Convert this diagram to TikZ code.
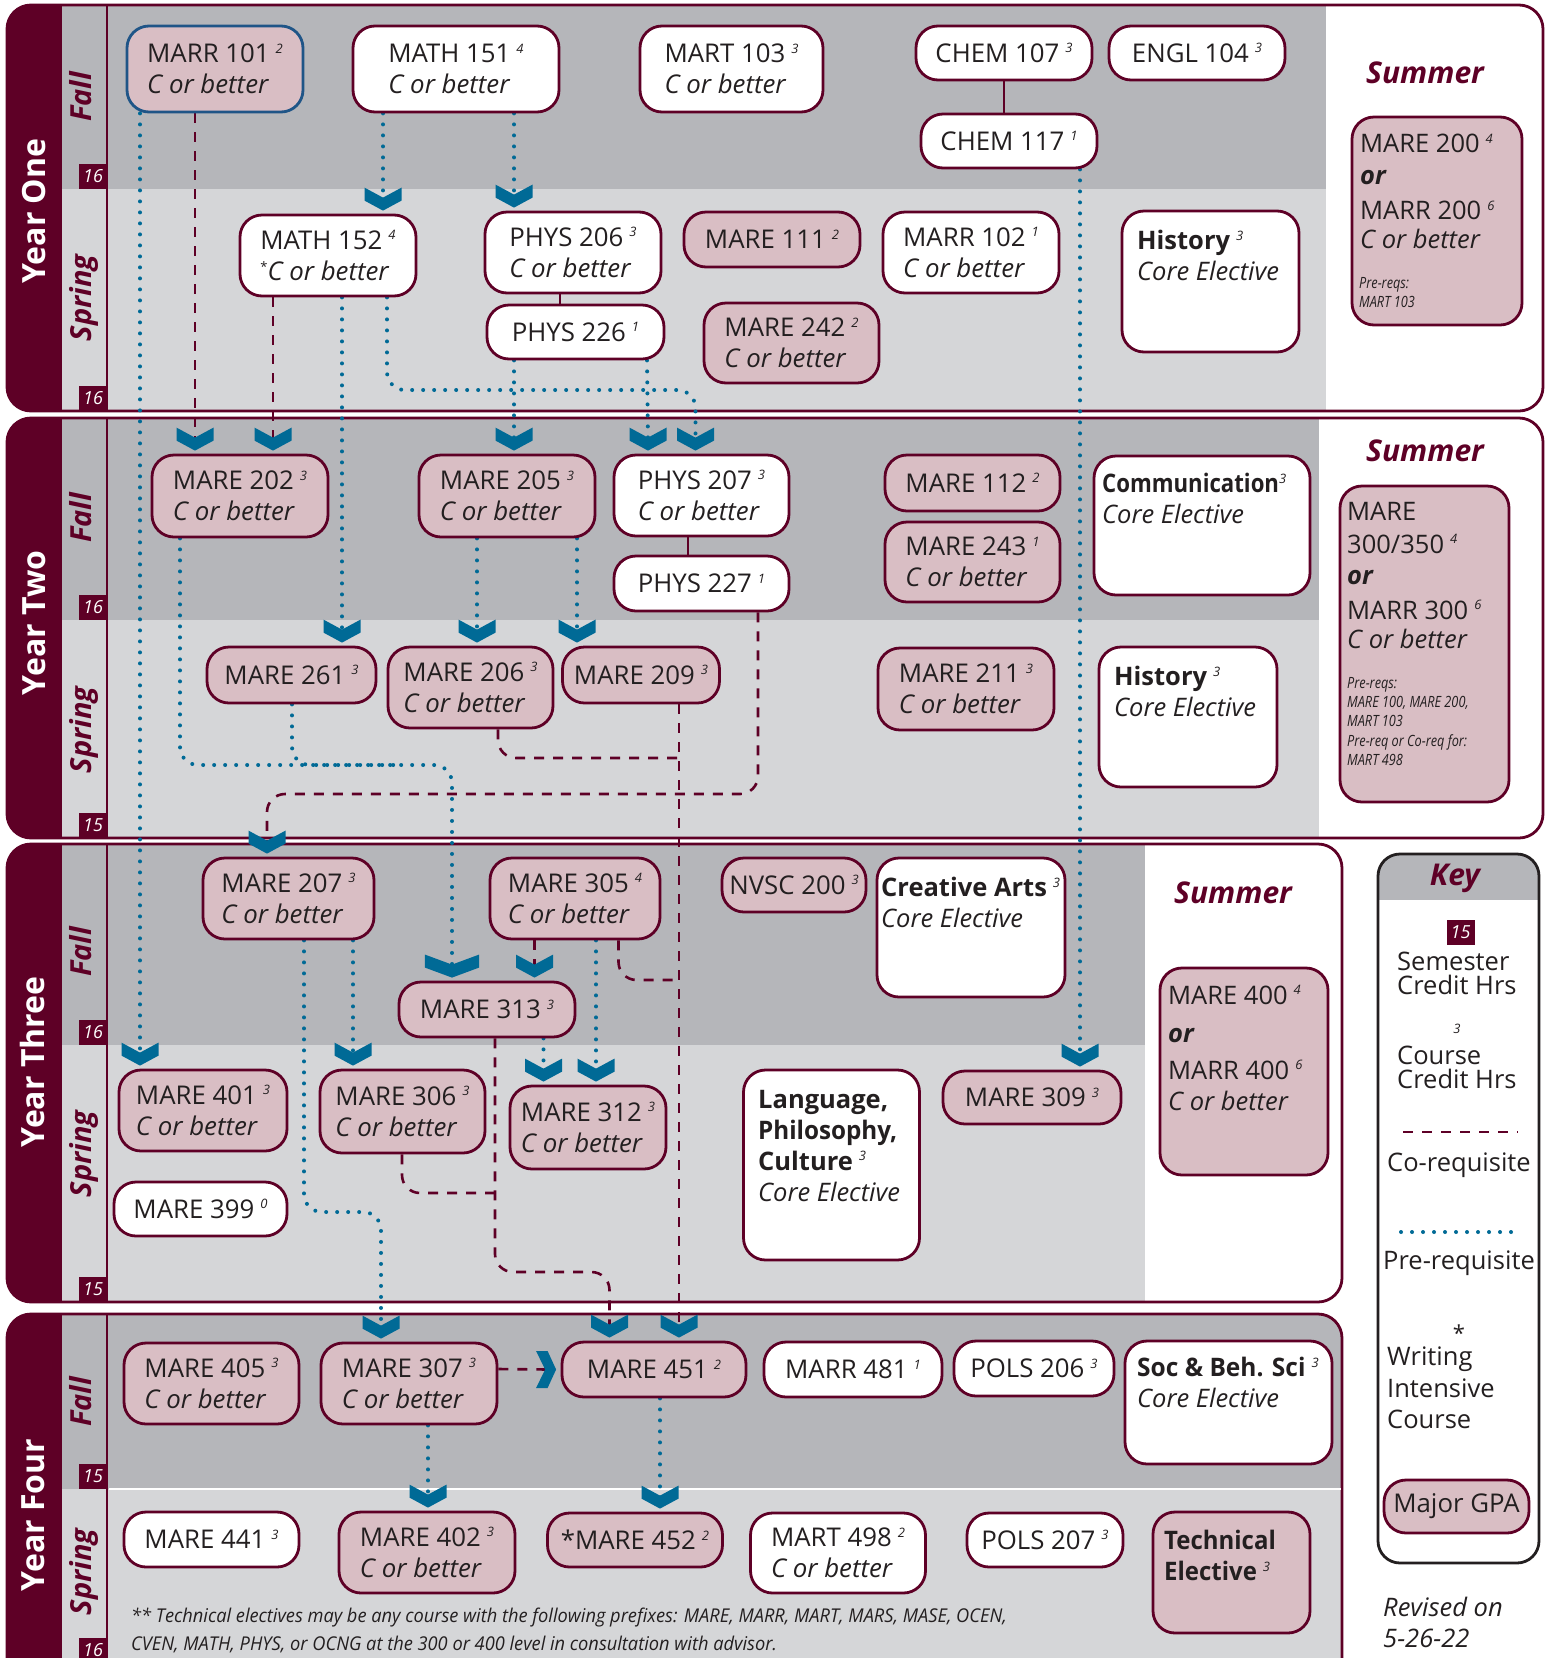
\documentclass[tikz,border=0pt]{standalone}
\usepackage{fontspec}
\usepackage{graphicx}
\setmainfont{Open Sans}
\usetikzlibrary{calc}
\pgfdeclarelayer{back}
\pgfdeclarelayer{lines}
\pgfsetlayers{back,lines,main}
\definecolor{maroon}{RGB}{94,0,38}
\definecolor{pinkf}{RGB}{217,190,196}
\definecolor{gfall}{RGB}{181,182,186}
\definecolor{gspr}{RGB}{213,214,216}
\definecolor{prblue}{RGB}{0,106,150}
\definecolor{txt}{RGB}{35,31,32}
\definecolor{bord}{RGB}{31,85,135}
\definecolor{keyline}{RGB}{35,31,32}
\newcommand{\sups}[1]{\hspace{6pt}\raisebox{9.5pt}{\fontsize{13}{13}\selectfont\itshape #1}}
\newcommand{\supn}[1]{\raisebox{9.5pt}{\fontsize{13}{13}\selectfont\itshape #1}}
\newcommand{\cnd}[2][0.82]{\scalebox{#1}[1]{#2}}
\newcommand{\bsc}[2][0.92]{\scalebox{#1}[1]{\bfseries #2}}
\newcommand{\crs}[6]{\node[#1, minimum width=#4pt, minimum height=#5pt] (#2) at (#3) {#6};}
\newcommand{\chev}[2][1]{\fill[prblue, shift={#2}, xscale=#1] (-18.5,-23) -- (0,-13) -- (18.5,-23) -- (18.5,-10) -- (0,0) -- (-18.5,-10) -- cycle;}
\newcommand{\yearframe}[5]{%
 \begin{scope}
  \clip[rounded corners=24pt] (7,#1) rectangle (#5,#3);
  \fill[white] (7,#1) rectangle (#5,#3);
  \fill[gfall] (7,#1) rectangle (#4,#2);
  \fill[gspr] (7,#2) rectangle (#4,#3);
  \fill[maroon] (7,#1) rectangle (62,#3);
 \end{scope}
 \draw[maroon, line width=2.5pt] (107,#1) -- (107,#3);
 \draw[maroon, line width=2.8pt, rounded corners=24pt] (7,#1) rectangle (#5,#3);
}
\begin{document}
\begin{tikzpicture}[x=1pt,y=-1pt,
 box/.style={draw=maroon, line width=2.8pt, rounded corners=22pt, text=txt, align=left, inner sep=0pt, font=\fontsize{25.8}{31}\selectfont},
 wbox/.style={box, fill=white},
 pbox/.style={box, fill=pinkf},
 txtn/.style={text=txt, align=left, inner sep=0pt, font=\fontsize{25.5}{31}\selectfont},
 smalln/.style={text=txt, align=left, inner sep=0pt, font=\fontsize{15.5}{19.3}\selectfont\itshape},
 fnt/.style={text=txt, inner sep=0pt, font=\fontsize{19}{19}\selectfont\itshape},
 summer/.style={text=maroon, inner sep=0pt, font=\fontsize{30}{30}\selectfont\bfseries\itshape},
 yrlab/.style={text=white, inner sep=0pt, font=\fontsize{32}{32}\selectfont\bfseries},
 semlab/.style={text=maroon, inner sep=0pt, font=\fontsize{29}{29}\selectfont\bfseries\itshape},
 credit/.style={fill=maroon, text=white, minimum width=28pt, minimum height=25pt, inner sep=0pt, font=\fontsize{18}{18}\selectfont\itshape},
 prereq/.style={prblue, line width=4pt, dash pattern=on 0pt off 11pt, line cap=round, rounded corners=18pt},
 coreq/.style={maroon, line width=2.6pt, dash pattern=on 10pt off 9pt, rounded corners=18pt},
 solidc/.style={maroon, line width=2.8pt}]
\useasboundingbox (0,0) rectangle (1551,1658);
\begin{pgfonlayer}{back}
\fill[white] (0,0) rectangle (1551,1658);
\yearframe{5}{189}{411}{1326}{1543}
\yearframe{418}{620}{838}{1319}{1543}
\yearframe{844}{1045}{1302}{1145}{1342}
\yearframe{1314}{1489}{1700}{1342}{1342}
\draw[white, line width=1.2pt] (108.5,1489) -- (1341,1489);
\node[yrlab, rotate=90, anchor=base] (y1) at (45,211) {Year One};
\node[yrlab, rotate=90, anchor=base] (y2) at (45,623) {Year Two};
\node[yrlab, rotate=90, anchor=base] (y3) at (44,1062) {Year Three};
\node[yrlab, rotate=90, anchor=base] (y4) at (44,1515) {Year Four};
\node[semlab, rotate=90, anchor=base] (y1f) at (91,97) {Fall};
\node[semlab, rotate=90, anchor=base] (y1s) at (91,298) {Spring};
\node[semlab, rotate=90, anchor=base] (y2f) at (91,518) {Fall};
\node[semlab, rotate=90, anchor=base] (y2s) at (91,730) {Spring};
\node[semlab, rotate=90, anchor=base] (y3f) at (91,952) {Fall};
\node[semlab, rotate=90, anchor=base] (y3s) at (91,1154) {Spring};
\node[semlab, rotate=90, anchor=base] (y4f) at (91,1402) {Fall};
\node[semlab, rotate=90, anchor=base] (y4s) at (91,1572) {Spring};
\node[credit] (c1f) at (93,176.5) {16};
\node[credit] (c1s) at (93,398) {16};
\node[credit] (c2f) at (93,607.5) {16};
\node[credit] (c2s) at (93,825) {15};
\node[credit] (c3f) at (93,1032) {16};
\node[credit] (c3s) at (93,1289) {15};
\node[credit] (c4f) at (93,1476) {15};
\node[credit] (c4s) at (93,1650) {16};
\end{pgfonlayer}

% ---------- Year One
\crs{pbox,draw=bord}{marr101}{215,69}{176}{86}{MARR 101\sups{2}\\\textit{C or better}}
\crs{wbox}{math151}{456,69}{206}{86}{MATH 151\sups{4}\\\textit{C or better}}
\crs{wbox}{mart103}{731.5,69}{183}{86}{MART 103\sups{3}\\\textit{C or better}}
\crs{wbox}{chem107}{1004,53}{176}{54}{CHEM 107\sups{3}}
\crs{wbox}{engl104}{1197,53}{176}{54}{ENGL 104\sups{3}}
\crs{wbox}{chem117}{1009,141}{176}{54}{CHEM 117\sups{1}}
\crs{wbox}{math152}{328,255.5}{176}{81}{MATH 152\sups{4}\\{\fontsize{13}{13}\selectfont\raisebox{9pt}{*}}\textit{C or better}}
\crs{wbox}{phys206}{573,252.5}{176}{81}{PHYS 206\sups{3}\\\textit{C or better}}
\crs{wbox}{phys226}{575.5,332}{177}{54}{PHYS 226\sups{1}}
\crs{pbox}{mare111}{772,239.5}{176}{55}{MARE 111\sups{2}}
\crs{pbox}{mare242}{791.5,343}{175}{80}{MARE 242\sups{2}\\\textit{C or better}}
\crs{wbox}{marr102}{971,252.5}{176}{81}{MARR 102\sups{1}\\\textit{C or better}}
\crs{wbox}{hist1}{1210.5,281.5}{177}{141}{}
\node[txtn, anchor=north west] (hist1t) at (1137,230) {\textbf{History}\sups{3}\\\textit{Core Elective}};
\node[summer, anchor=base] (sum1) at (1425,83) {Summer};
\crs{pbox}{mare200}{1437,221}{170}{208}{}
\node[txtn, anchor=north west] (mare200t) at (1360,134) {MARE 200\sups{4}\\[1pt]\textbf{\textit{or}}\\[4pt]MARR 200\sups{6}\\[-2pt]\textit{C or better}};
\node[smalln, anchor=north west] (mare200s) at (1359,277) {\cnd{Pre-reqs:}\\\cnd{MART 103}};

% ---------- Year Two
\crs{pbox}{mare202}{240,496}{176}{82}{MARE 202\sups{3}\\\textit{C or better}}
\crs{pbox}{mare205}{507,496}{176}{82}{MARE 205\sups{3}\\\textit{C or better}}
\crs{wbox}{phys207}{701.5,495.5}{175}{81}{PHYS 207\sups{3}\\\textit{C or better}}
\crs{wbox}{phys227}{701.5,583.5}{175}{55}{PHYS 227\sups{1}}
\crs{pbox}{mare112}{972.5,483}{175}{56}{MARE 112\sups{2}}
\crs{pbox}{mare243}{972.5,562}{175}{80}{MARE 243\sups{1}\\\textit{C or better}}
\crs{wbox}{comm}{1202,525.5}{216}{139}{}
\node[txtn, anchor=north west] (commt) at (1102,473) {\bsc[0.87]{Communication}\supn{3}\\\textit{Core Elective}};
\crs{pbox}{mare261}{291.5,675}{169}{56}{MARE 261\sups{3}}
\crs{pbox}{mare206}{470.5,687.5}{165}{81}{MARE 206\sups{3}\\\textit{C or better}}
\crs{pbox}{mare209}{641,675}{157}{56}{MARE 209\sups{3}}
\crs{pbox}{mare211}{966,689}{176}{82}{MARE 211\sups{3}\\\textit{C or better}}
\crs{wbox}{hist2}{1188,717}{178}{140}{}
\node[txtn, anchor=north west] (hist2t) at (1114,666) {\textbf{History}\sups{3}\\\textit{Core Elective}};
\node[summer, anchor=base] (sum2) at (1425,461) {Summer};
\crs{pbox}{mare300}{1424.5,644}{169}{316}{}
\node[txtn, anchor=north west] (mare300t) at (1347,502) {MARE\\[2pt]300/350\sups{4}\\\textbf{\textit{or}}\\[4pt]MARR 300\sups{6}\\[-2pt]\textit{C or better}};
\node[smalln, anchor=north west] (mare300s) at (1347,677) {\cnd{Pre-reqs:}\\\cnd{MARE 100, MARE 200,}\\\cnd{MART 103}\\\cnd{Pre-req or Co-req for:}\\\cnd{MART 498}};

% ---------- Year Three
\crs{pbox}{mare207}{288.5,898.5}{171}{81}{MARE 207\sups{3}\\\textit{C or better}}
\crs{pbox}{mare305}{575,898.5}{170}{81}{MARE 305\sups{4}\\\textit{C or better}}
\crs{pbox}{mare313}{487,1009.5}{176}{55}{MARE 313\sups{3}}
\crs{pbox}{nvsc200}{794,885}{144}{54}{NVSC 200\sups{3}}
\crs{wbox}{creat}{971,927.5}{188}{139}{}
\node[txtn, anchor=north west] (creatt) at (881,877) {\textbf{Creative Arts}\sups{3}\\\textit{Core Elective}};
\node[summer, anchor=base] (sum3) at (1233,903) {Summer};
\crs{pbox}{mare400}{1244,1071.5}{168}{207}{}
\node[txtn, anchor=north west] (mare400t) at (1168,985) {MARE 400\sups{4}\\[7pt]\textbf{\textit{or}}\\[6pt]MARR 400\sups{6}\\\textit{C or better}};
\crs{pbox}{mare401}{203,1110.5}{168}{81}{MARE 401\sups{3}\\\textit{C or better}}
\crs{pbox}{mare306}{402.5,1111.5}{165}{83}{MARE 306\sups{3}\\\textit{C or better}}
\crs{pbox}{mare312}{588,1127.5}{156}{83}{MARE 312\sups{3}\\\textit{C or better}}
\crs{wbox}{mare399}{200.5,1209}{173}{54}{MARE 399\sups{0}}
\crs{wbox}{lang}{831.5,1165}{176}{190}{}
\node[txtn, anchor=north west] (langt) at (758,1090) {\textbf{Language,}\\\bsc[0.95]{Philosophy,}\\\textbf{Culture}\sups{3}\\\textit{Core Elective}};
\crs{pbox}{mare309}{1032,1097.5}{178}{53}{MARE 309\sups{3}}

% ---------- Year Four
\crs{pbox}{mare405}{211.5,1383.5}{175}{81}{MARE 405\sups{3}\\\textit{C or better}}
\crs{pbox}{mare307}{409,1383.5}{176}{81}{MARE 307\sups{3}\\\textit{C or better}}
\crs{pbox}{mare451}{654,1369.5}{184}{55}{MARE 451\sups{2}}
\crs{wbox}{marr481}{853,1369.5}{178}{55}{MARR 481\sups{1}}
\crs{wbox}{pols206}{1034,1368.5}{160}{55}{POLS 206\sups{3}}
\crs{wbox}{socbeh}{1228.5,1402.5}{207}{123}{}
\node[txtn, anchor=north west] (socbeht) at (1137,1357) {\bsc[0.96]{Soc \& Beh. Sci}\sups{3}\\\textit{Core Elective}};
\crs{wbox}{mare441}{211.5,1539.5}{175}{55}{MARE 441\sups{3}}
\crs{pbox}{mare402}{427,1552.5}{176}{81}{MARE 402\sups{3}\\\textit{C or better}}
\crs{pbox}{mare452}{635,1540}{175}{54}{*MARE 452\sups{2}}
\crs{wbox}{mart498}{838,1553}{175}{80}{MART 498\sups{2}\\\textit{C or better}}
\crs{wbox}{pols207}{1045,1540}{156}{54}{POLS 207\sups{3}}
\crs{pbox}{tech}{1231.5,1572.5}{157}{121}{}
\node[txtn, anchor=north west] (techt) at (1164,1530) {\bsc[0.94]{Technical}\\\bsc[0.94]{Elective}\sups{3}};
\node[fnt, anchor=base west] (fn1) at (131,1622) {\cnd[0.96]{** Technical electives may be any course with the following prefixes: MARE, MARR, MART, MARS, MASE, OCEN,}};
\node[fnt, anchor=base west] (fn2) at (131,1650) {\cnd[0.96]{CVEN, MATH, PHYS, or OCNG at the 300 or 400 level in consultation with advisor.}};

% ---------- connectors
\begin{pgfonlayer}{lines}
\draw[solidc] (chem107.south) -- ([xshift=-5pt]chem117.north);
\draw[solidc] ([xshift=-13pt]phys206.south) -- ([xshift=-15.5pt]phys226.north);
\draw[solidc] ([xshift=-13.5pt]phys207.south) -- ([xshift=-13.5pt]phys227.north);
\draw[prereq] ([xshift=-75pt]marr101.south) -- ([xshift=-63pt,yshift=14pt]mare401.north);
\draw[coreq] ([xshift=-20pt]marr101.south) -- ([xshift=-45pt,yshift=14pt]mare202.north);
\draw[prereq] ([xshift=-73pt]math151.south) -- ([xshift=55pt,yshift=14pt]math152.north);
\draw[prereq] ([xshift=58pt]math151.south) -- ([xshift=-59pt,yshift=14pt]phys206.north);
\draw[coreq] ([xshift=-55pt]math152.south) -- ([xshift=33pt,yshift=14pt]mare202.north);
\draw[prereq] ([xshift=14pt]math152.south) -- ([xshift=50.5pt,yshift=14pt]mare261.north);
\draw[prereq] ([xshift=59pt]math152.south) |- (695.5,390) -- ([xshift=-6pt,yshift=14pt]phys207.north);
\draw[prereq] ([xshift=-61.5pt]phys226.south) -- ([xshift=7pt,yshift=14pt]mare205.north);
\draw[prereq] ([xshift=71.5pt]phys226.south) -- ([xshift=-53.5pt,yshift=14pt]phys207.north);
\draw[prereq] ([xshift=71pt]chem117.south) -- ([xshift=48pt,yshift=14pt]mare309.north);
\draw[prereq] ([xshift=-60pt]mare202.south) |- (452,765) -- ([xshift=-35pt,yshift=14pt]mare313.north);
\draw[prereq] ([xshift=0.5pt]mare261.south) |- (400,765);
\draw[prereq] ([xshift=-30pt]mare205.south) -- ([xshift=6.5pt,yshift=14pt]mare206.north);
\draw[prereq] ([xshift=70pt]mare205.south) -- ([xshift=-64pt,yshift=14pt]mare209.north);
\draw[coreq] ([xshift=56.5pt]phys227.south) |- (267,794) -- ([xshift=-21.5pt,yshift=14pt]mare207.north);
\draw[coreq] ([xshift=38pt]mare209.south) -- ([xshift=25pt,yshift=14pt]mare451.north);
\draw[coreq] ([xshift=27.5pt]mare206.south) |- (679,758);
\draw[coreq] ([xshift=43.5pt]mare305.south) |- (679,980);
\draw[coreq] ([xshift=-40.5pt]mare305.south) -- ([xshift=47.5pt,yshift=14pt]mare313.north);
\draw[coreq] ([xshift=8pt]mare313.south) |- (609.5,1272) -- ([xshift=-44.5pt,yshift=14pt]mare451.north);
\draw[coreq] ([xshift=-0.5pt]mare306.south) |- (495,1193);
\draw[prereq] ([xshift=15.5pt]mare207.south) |- (381,1212) -- ([xshift=-28pt,yshift=14pt]mare307.north);
\draw[prereq] ([xshift=64.5pt]mare207.south) -- ([xshift=-49.5pt,yshift=14pt]mare306.north);
\draw[prereq] ([xshift=56.5pt]mare313.south) -- ([xshift=-44.5pt,yshift=14pt]mare312.north);
\draw[prereq] ([xshift=21pt]mare305.south) -- ([xshift=8pt,yshift=14pt]mare312.north);
\draw[coreq] ([yshift=14.5pt]mare307.east) -- ([xshift=-12pt]mare451.west);
\draw[prereq] ([xshift=19pt]mare307.south) -- ([xshift=1pt,yshift=14pt]mare402.north);
\draw[prereq] ([xshift=6pt]mare451.south) -- ([xshift=25pt,yshift=14pt]mare452.north);
\end{pgfonlayer}

% ---------- chevrons
\chev{([xshift=55pt,yshift=3pt]math152.north)}
\chev{([xshift=-59pt,yshift=3pt]phys206.north)}
\chev{([xshift=-45pt,yshift=3pt]mare202.north)}
\chev{([xshift=33pt,yshift=3pt]mare202.north)}
\chev{([xshift=7pt,yshift=3pt]mare205.north)}
\chev{([xshift=-53.5pt,yshift=3pt]phys207.north)}
\chev{([xshift=-6pt,yshift=3pt]phys207.north)}
\chev{([xshift=50.5pt,yshift=3pt]mare261.north)}
\chev{([xshift=6.5pt,yshift=3pt]mare206.north)}
\chev{([xshift=-64pt,yshift=3pt]mare209.north)}
\chev{([xshift=-21.5pt,yshift=3pt]mare207.north)}
\chev[1.46]{([xshift=-35pt,yshift=3pt]mare313.north)}
\chev{([xshift=47.5pt,yshift=3pt]mare313.north)}
\chev{([xshift=-63pt,yshift=3pt]mare401.north)}
\chev{([xshift=-49.5pt,yshift=3pt]mare306.north)}
\chev{([xshift=-44.5pt,yshift=3pt]mare312.north)}
\chev{([xshift=8pt,yshift=3pt]mare312.north)}
\chev{([xshift=48pt,yshift=3pt]mare309.north)}
\chev{([xshift=-28pt,yshift=3pt]mare307.north)}
\chev{([xshift=-44.5pt,yshift=3pt]mare451.north)}
\chev{([xshift=25pt,yshift=3pt]mare451.north)}
\chev{([xshift=1pt,yshift=3pt]mare402.north)}
\chev{([xshift=25pt,yshift=3pt]mare452.north)}
\fill[prblue, shift={([xshift=-4.5pt]mare451.west)}] (-20,-18.5) -- (-11,0) -- (-20,18.5) -- (-8.5,18.5) -- (0,0) -- (-8.5,-18.5) -- cycle;

% ---------- key
\begin{scope}
\clip[rounded corners=22pt] (1378,854) rectangle (1539,1563);
\fill[white] (1378,854) rectangle (1539,1563);
\fill[gfall] (1378,854) rectangle (1539,900);
\end{scope}
\draw[keyline, line width=2.8pt, rounded corners=22pt] (1378,854) rectangle (1539,1563);
\node[summer, anchor=base] (keyt) at (1455,885) {Key};
\node[credit] (key15) at (1460.5,932.5) {15};
\node[txtn, anchor=north west, font=\fontsize{25.5}{24}\selectfont] (keysem) at (1397,952) {Semester\\Credit Hrs};
\node[text=txt, inner sep=0pt, anchor=base, font=\fontsize{13}{13}\selectfont\itshape] (key3) at (1457,1033) {3};
\node[txtn, anchor=north west, font=\fontsize{25.5}{24}\selectfont] (keycrs) at (1397,1046) {Course\\Credit Hrs};
\coordinate (kd1) at (1403,1132);
\coordinate (kd2) at (1518,1132);
\draw[coreq] (kd1) -- (kd2);
\node[txtn, anchor=base] (keyco) at (1459,1171) {Co-requisite};
\coordinate (kp1) at (1401,1232);
\coordinate (kp2) at (1522,1232);
\draw[prereq] (kp1) -- (kp2);
\node[txtn, anchor=base] (keypre) at (1459,1269) {Pre-requisite};
\node[text=txt, inner sep=0pt, anchor=base, font=\fontsize{22}{22}\selectfont] (keyast) at (1459,1341) {*};
\node[txtn, anchor=north west, font=\fontsize{25.5}{31.5}\selectfont] (keywi) at (1387,1347) {Writing\\Intensive\\Course};
\crs{pbox}{gpa}{1456.5,1506.5}{145}{53}{Major GPA}
\node[txtn, anchor=north west, font=\fontsize{25.5}{31}\selectfont\itshape] (rev) at (1383,1597) {Revised on\\5-26-22};
\end{tikzpicture}
\end{document}
